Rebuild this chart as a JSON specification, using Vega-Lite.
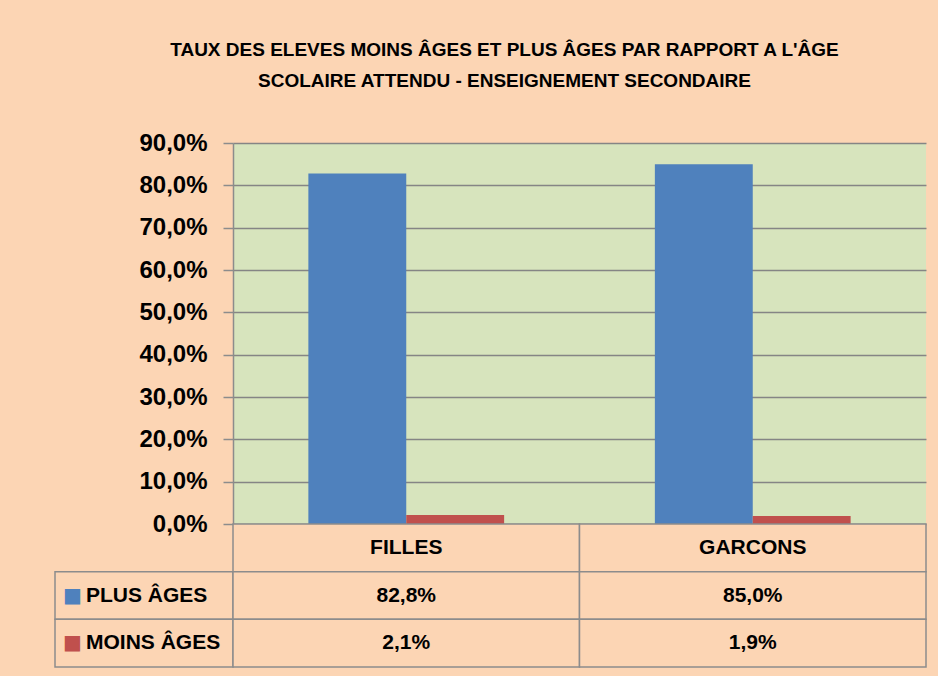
{
  "$schema": "https://vega.github.io/schema/vega-lite/v6.json",
  "background": "#FCD5B4",
  "padding": {"left": 54, "top": 41, "right": 13, "bottom": 8},
  "autosize": {"type": "pad"},
  "title": {
    "text": ["TAUX DES ELEVES MOINS ÂGES ET PLUS ÂGES PAR RAPPORT A L'ÂGE", "SCOLAIRE ATTENDU - ENSEIGNEMENT SECONDAIRE"],
    "font": "Liberation Sans Narrow, Liberation Sans",
    "fontSize": 19,
    "fontWeight": "bold",
    "color": "#000000",
    "lineHeight": 31,
    "anchor": "middle",
    "offset": 40,
    "dx": 14
  },
  "datasets": {
    "taux": [
      {"groupe": "FILLES", "serie": "PLUS ÂGES", "valeur": 0.828},
      {"groupe": "FILLES", "serie": "MOINS ÂGES", "valeur": 0.021},
      {"groupe": "GARCONS", "serie": "PLUS ÂGES", "valeur": 0.85},
      {"groupe": "GARCONS", "serie": "MOINS ÂGES", "valeur": 0.019}
    ]
  },
  "columns": 2,
  "spacing": 0,
  "bounds": "flush",
  "concat": [
    {
      "width": 178,
      "height": 381,
      "data": {"values": []},
      "mark": "rect",
      "encoding": {}
    },
    {
      "width": 693,
      "height": 381,
      "data": {"name": "taux"},
      "view": {"fill": "#D7E4BD", "stroke": null},
      "mark": {"type": "bar"},
      "encoding": {
        "x": {"field": "groupe", "type": "nominal", "sort": ["FILLES", "GARCONS"], "scale": {"paddingInner": 0, "paddingOuter": 0}, "axis": null},
        "xOffset": {"field": "serie", "type": "nominal", "sort": ["PLUS ÂGES", "MOINS ÂGES"], "scale": {"domain": ["PLUS ÂGES", "MOINS ÂGES"], "paddingInner": 0, "paddingOuter": 0.77}},
        "y": {
          "field": "valeur",
          "type": "quantitative",
          "scale": {"domain": [0, 0.9], "nice": false},
          "axis": {
            "values": [0, 0.1, 0.2, 0.3, 0.4, 0.5, 0.6, 0.7, 0.8, 0.9],
            "format": ".1%",
            "title": null,
            "grid": true,
            "gridColor": "#858585",
            "gridWidth": 1.5,
            "domainColor": "#8C8C8C",
            "domainWidth": 1.5,
            "tickColor": "#8C8C8C",
            "tickWidth": 1.5,
            "tickSize": 10,
            "labelFont": "Liberation Sans Narrow, Liberation Sans",
            "labelFontSize": 24,
            "labelFontWeight": "bold",
            "labelColor": "#000000",
            "labelPadding": 16
          }
        },
        "color": {"field": "serie", "type": "nominal", "scale": {"domain": ["PLUS ÂGES", "MOINS ÂGES"], "range": ["#4F81BD", "#C0504D"]}, "legend": null}
      }
    },
    {
      "width": 178,
      "height": 143,
      "data": {"name": "taux"},
      "transform": [{"filter": "datum.groupe === 'FILLES'"}],
      "encoding": {
        "y": {"field": "serie", "type": "nominal", "scale": {"domain": ["header", "PLUS ÂGES", "MOINS ÂGES"], "paddingInner": 0, "paddingOuter": 0}, "axis": null}
      },
      "layer": [
        {"mark": {"type": "rect", "fill": "#FCD5B4", "stroke": "#8C8C8C", "strokeWidth": 1.5}},
        {
          "mark": {"type": "text", "text": "■", "align": "left", "dx": -81, "fontSize": 20, "font": "DejaVu Sans"},
          "encoding": {"color": {"field": "serie", "type": "nominal", "scale": {"domain": ["PLUS ÂGES", "MOINS ÂGES"], "range": ["#4F81BD", "#C0504D"]}, "legend": null}}
        },
        {
          "mark": {"type": "text", "align": "left", "dx": -58, "fontSize": 21, "fontWeight": "bold", "font": "Liberation Sans Narrow, Liberation Sans", "color": "#000000"},
          "encoding": {"text": {"field": "serie"}}
        }
      ]
    },
    {
      "width": 693,
      "height": 143,
      "data": {"name": "taux"},
      "encoding": {
        "x": {"field": "groupe", "type": "nominal", "sort": ["FILLES", "GARCONS"], "scale": {"paddingInner": 0, "paddingOuter": 0}, "axis": null}
      },
      "layer": [
        {
          "transform": [{"filter": "datum.serie === 'PLUS ÂGES'"}],
          "mark": {"type": "rect", "fill": "#FCD5B4", "stroke": "#8C8C8C", "strokeWidth": 1.5},
          "encoding": {"y": {"datum": "header", "type": "nominal", "scale": {"domain": ["header", "PLUS ÂGES", "MOINS ÂGES"], "paddingInner": 0, "paddingOuter": 0}, "axis": null}}
        },
        {
          "mark": {"type": "rect", "fill": "#FCD5B4", "stroke": "#8C8C8C", "strokeWidth": 1.5},
          "encoding": {"y": {"field": "serie", "type": "nominal"}}
        },
        {
          "transform": [{"filter": "datum.serie === 'PLUS ÂGES'"}],
          "mark": {"type": "text", "fontSize": 21, "fontWeight": "bold", "font": "Liberation Sans Narrow, Liberation Sans", "color": "#000000"},
          "encoding": {"y": {"datum": "header", "type": "nominal"}, "text": {"field": "groupe"}}
        },
        {
          "mark": {"type": "text", "fontSize": 21, "fontWeight": "bold", "font": "Liberation Sans Narrow, Liberation Sans", "color": "#000000"},
          "encoding": {"y": {"field": "serie", "type": "nominal"}, "text": {"field": "valeur", "type": "quantitative", "format": ".1%"}}
        }
      ]
    }
  ],
  "config": {
    "view": {"stroke": null},
    "locale": {"number": {"decimal": ",", "thousands": " ", "grouping": [3], "currency": ["", " €"]}}
  }
}
